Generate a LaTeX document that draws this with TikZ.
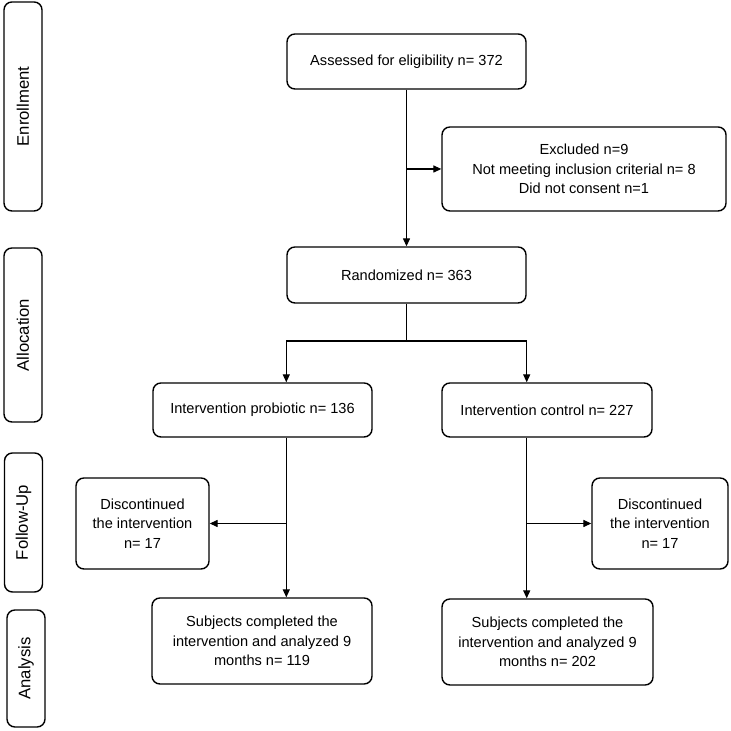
\documentclass[tikz,border=0pt]{standalone}
\usepackage{fontspec}
\setmainfont{Liberation Sans}
\usepackage{tikz}
\usetikzlibrary{arrows.meta,calc}
\usetikzlibrary{positioning,shapes.geometric}

\begin{document}
\begin{tikzpicture}[every node/.style={draw,rounded corners=4.5pt,line width=0.8pt,align=center,font=\fontsize{8.3}{11}\selectfont},
  stage/.style={rotate=90,minimum height=0.76cm,font=\fontsize{9.5}{11}\selectfont},
  arr/.style={-{Triangle[length=4.5pt,width=4pt]},line width=0.6pt},
  lin/.style={line width=0.6pt}]
\useasboundingbox (0,0) rectangle (14.62,14.62);

\node (enroll) at (0.46,12.49) [stage,minimum width=4.18cm] {Enrollment};
\node (alloc) at (0.46,7.92) [stage,minimum width=3.48cm] {Allocation};
\node (follow) at (0.47,4.17) [stage,minimum width=2.78cm] {Follow-Up};
\node (analys) at (0.52,1.25) [stage,minimum width=2.34cm] {Analysis};

\node (assess) at (8.13,13.39) [minimum width=4.78cm,minimum height=1.10cm] {Assessed for eligibility n= 372};
\node (excl) at (11.68,11.24) [minimum width=5.68cm,minimum height=1.68cm] {Excluded n=9\\Not meeting inclusion criterial n= 8\\Did not consent n=1};
\node (rand) at (8.13,9.12) [minimum width=4.78cm,minimum height=1.12cm] {Randomized n= 363};

\node (prob) at (5.25,6.42) [minimum width=4.38cm,minimum height=1.08cm] {Intervention probiotic n= 136};
\node (ctrl) at (10.94,6.42) [minimum width=4.20cm,minimum height=1.08cm] {Intervention control n= 227};

\node (discL) at (2.85,4.15) [minimum width=2.66cm,minimum height=1.82cm] {Discontinued\\the intervention\\n= 17};
\node (discR) at (13.20,4.15) [minimum width=2.72cm,minimum height=1.82cm] {Discontinued\\the intervention\\n= 17};

\node (subL) at (5.24,1.80) [minimum width=4.40cm,minimum height=1.72cm] {Subjects completed the\\intervention and analyzed 9\\months n= 119};
\node (subR) at (10.95,1.78) [minimum width=4.22cm,minimum height=1.72cm] {Subjects completed the\\intervention and analyzed 9\\months n= 202};

\coordinate (split) at (8.13,7.80);

\draw[arr] (assess) -- (rand);
\draw[arr] (assess.south |- excl.west) -- (excl.west);
\draw[lin] (rand.south) -- (split);
\draw[arr] (split) -| (rand.west |- prob.north);
\draw[arr] (split) -| (rand.east |- ctrl.north);

\draw[arr] (rand.west |- prob.south) -- (rand.west |- subL.north);
\draw[arr] (rand.west |- discL.east) -- (discL.east);
\draw[arr] (rand.east |- ctrl.south) -- (rand.east |- subR.north);
\draw[arr] (rand.east |- discR.west) -- (discR.west);
\end{tikzpicture}
\end{document}
